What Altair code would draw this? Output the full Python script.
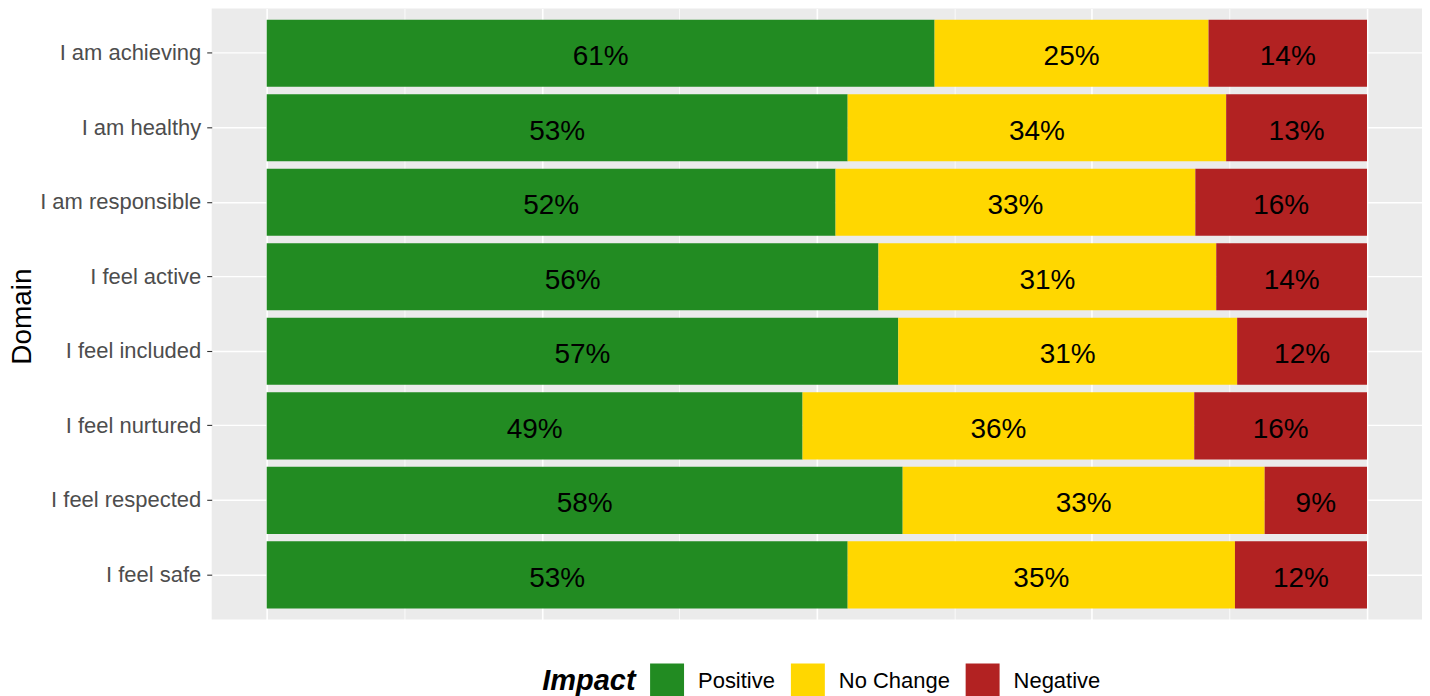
import altair as alt
import pandas as pd

domains = ["I am achieving", "I am healthy", "I am responsible", "I feel active",
           "I feel included", "I feel nurtured", "I feel respected", "I feel safe"]
impacts = ["Positive", "No Change", "Negative"]
colors = ["#228B22", "#FFD700", "#B22222"]

positive = [0.607, 0.528, 0.517, 0.556, 0.574, 0.487, 0.578, 0.528]
no_change = [0.249, 0.344, 0.327, 0.307, 0.308, 0.356, 0.329, 0.352]
negative = [0.144, 0.128, 0.156, 0.137, 0.118, 0.157, 0.093, 0.120]

rows = []
for i, d in enumerate(domains):
    for k, (imp, vals) in enumerate(zip(impacts, [positive, no_change, negative])):
        rows.append({"domain": d, "impact": imp, "value": vals[i], "ord": k})
df = pd.DataFrame(rows)

FONT = "Liberation Sans"

y_enc = alt.Y(
    "domain:N", sort=domains,
    scale=alt.Scale(paddingInner=0.1, paddingOuter=0.15),
    axis=alt.Axis(
        title="Domain", titleFontSize=28, titleFontWeight="normal", titleColor="black",
        titleFont=FONT, titleX=-189, titleY=308, titleAngle=-90,
        titleAlign="center", titleBaseline="middle",
        labelFont=FONT, labelFontSize=22, labelColor="#4D4D4D", labelPadding=6,
        tickColor="#333333", tickSize=5, tickWidth=1.1, domain=False,
        grid=True, gridColor="white", gridWidth=1.4,
    ),
)

x_scale = alt.Scale(domain=[-0.05, 1.05], nice=False, zero=False)
x_axis = alt.Axis(
    title=None, labels=False, ticks=False, domain=False, grid=True,
    values=[0, 0.125, 0.25, 0.375, 0.5, 0.625, 0.75, 0.875, 1.0],
    gridColor="white",
    gridWidth=alt.ConditionalAxisNumber(
        condition={"test": "(datum.value * 4) % 1 === 0", "value": 1.6}, value=0.8
    ),
)

base = alt.Chart(df)

bars = base.mark_bar().encode(
    y=y_enc,
    x=alt.X("value:Q", stack="zero", scale=x_scale, axis=x_axis),
    color=alt.Color(
        "impact:N", sort=impacts,
        scale=alt.Scale(domain=impacts, range=colors),
        legend=alt.Legend(
            title="Impact", orient="none", legendX=331, legendY=656,
            direction="horizontal", titleOrient="left",
            titleFont=FONT, titleFontSize=29, titleFontStyle="italic",
            titleFontWeight="bold", titleColor="black", titlePadding=14,
            titleBaseline="middle",
            labelFont=FONT, labelFontSize=22, labelColor="black", labelOffset=14,
            symbolType="square", symbolSize=1156, symbolStrokeWidth=0,
            symbolOpacity=1, columnPadding=15,
        ),
    ),
    order=alt.Order("ord:Q"),
)

text = base.transform_stack(
    stack="value", groupby=["domain"], as_=["x0", "x1"],
    sort=[alt.SortField("ord", order="ascending")],
).transform_calculate(
    mid="(datum.x0 + datum.x1) / 2",
    label="format(datum.value, '.0%')",
).mark_text(font=FONT, fontSize=28, color="black", baseline="middle", align="center", dy=4).encode(
    y=alt.Y("domain:N", sort=domains),
    x=alt.X("mid:Q", scale=x_scale),
    text="label:N",
)

chart = alt.layer(bars, text).properties(
    width=1212, height=612,
    autosize=alt.AutoSizeParams(type="none"),
    padding={"left": 204, "top": 0, "right": 0, "bottom": 76},
    background="white",
).configure_view(fill="#EBEBEB", stroke=None)

chart.save("out.html", embed_options={"renderer": "svg", "actions": False})
